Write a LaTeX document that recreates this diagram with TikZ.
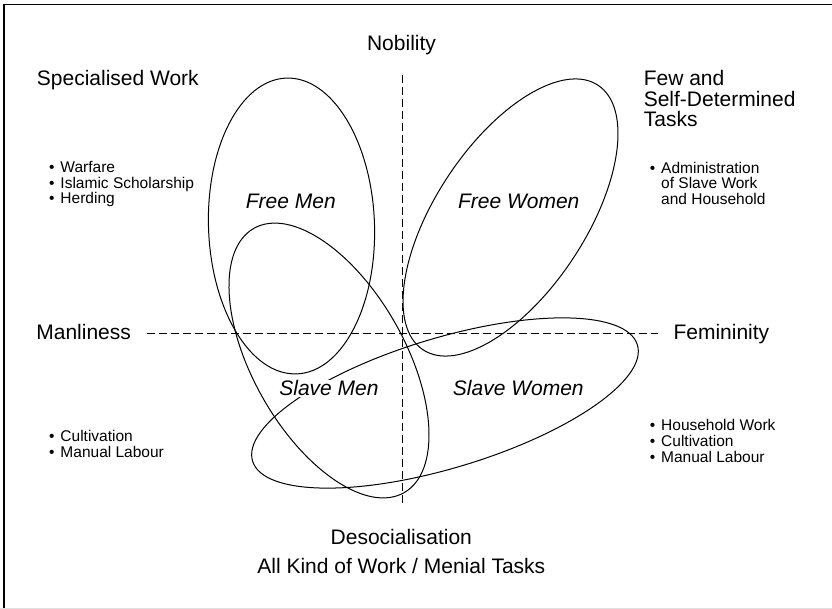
\documentclass[tikz,border=0pt]{standalone}
\usepackage{fontspec}
\setmainfont{Liberation Sans}
\usetikzlibrary{calc,positioning}

\newcommand{\blt}{\makebox[11.3pt][l]{\textbullet}}
\newcommand{\ind}{\hspace*{11.3pt}}

\tikzset{
  heading/.style={inner sep=0,font=\fontsize{21}{20.5}\selectfont},
  group/.style={inner sep=0,anchor=base,font=\fontsize{21}{21}\selectfont\itshape},
  item/.style={inner sep=0,anchor=base west,font=\fontsize{15.5}{15.8}\selectfont},
  axis/.style={line width=1pt,dash pattern=on 8pt off 4pt},
  set/.style={line width=1pt}
}

\begin{document}
\begin{tikzpicture}[x=1pt,y=1pt]

  \useasboundingbox (0,0) rectangle (832,609);
  \draw [line width=1.3pt] (4,0.7) -- (4,604.7) -- (832,604.7);
  \draw [black!12,line width=1pt] (0,0.7) -- (832,0.7);

  % axes
  \coordinate (axis_top) at (402,534);
  \coordinate (axis_bottom) at (402,106);
  \coordinate (axis_left) at (147,275);
  \coordinate (axis_right) at (658,275);
  \draw [axis] (axis_top) -- (axis_bottom);
  \draw [axis] (axis_left) -- (axis_right);

  % the four groups
  \coordinate (free_men) at (291.5,383);
  \coordinate (slave_men) at (329,248.5);
  \coordinate (free_women) at (510.5,391.5);
  \coordinate (slave_women) at (445,206);
  \draw [set,rotate around={2:(free_men)}] (free_men) ellipse [x radius=83pt,y radius=148pt];
  \draw [set,rotate around={29.6:(slave_men)}] (slave_men) ellipse [x radius=76pt,y radius=152pt];
  \draw [set,rotate around={56.5:(free_women)}] (free_women) ellipse [x radius=158.6pt,y radius=74.8pt];
  \draw [set,rotate around={16.8:(slave_women)}] (slave_women) ellipse [x radius=201pt,y radius=65pt];

  \node [group] (free_men_label) at (290.8,400) {Free Men};
  \node [group] (free_women_label) at (518.7,400) {Free Women};
  \node [group,fill=white,inner sep=1pt] (slave_men_label) at (329,213) {Slave Men};
  \node [group] (slave_women_label) at (518.3,213) {Slave Women};

  % axis labels
  \node [heading,anchor=base] (nobility) at (401.5,558.3) {Nobility};
  \node [heading,anchor=base] (desocialisation) at (401.3,64) {Desocialisation};
  \node [heading,anchor=base] (menial) at (401.3,35) {All Kind of Work / Menial Tasks};
  \node [heading,anchor=base west] (manliness) at (36.2,269) {Manliness};
  \node [heading,anchor=base west] (femininity) at (673.3,269) {Femininity};

  % kinds of work
  \node [heading,anchor=base west] (specialised) at (36.7,523) {Specialised Work};
  \foreach \t [count=\i] in {Few and,Self-Determined,Tasks}
    \node [heading,anchor=base west] (few_\i) at (643.6,{523-20.5*(\i-1)}) {\t};

  \foreach \t [count=\i] in {Warfare,Islamic Scholarship,Herding}
    \node [item] (free_men_work_\i) at (49,{436.7-15.8*(\i-1)}) {\blt\t};
  \foreach \t [count=\i] in {\blt Administration,\ind of Slave Work,\ind and Household}
    \node [item] (free_women_work_\i) at (649.7,{435.7-15.6*(\i-1)}) {\t};
  \foreach \t [count=\i] in {Cultivation,Manual Labour}
    \node [item] (slave_men_work_\i) at (49,{167.3-16*(\i-1)}) {\blt\t};
  \foreach \t [count=\i] in {Household Work,Cultivation,Manual Labour}
    \node [item] (slave_women_work_\i) at (649.7,{178.3-16*(\i-1)}) {\blt\t};

\end{tikzpicture}
\end{document}
